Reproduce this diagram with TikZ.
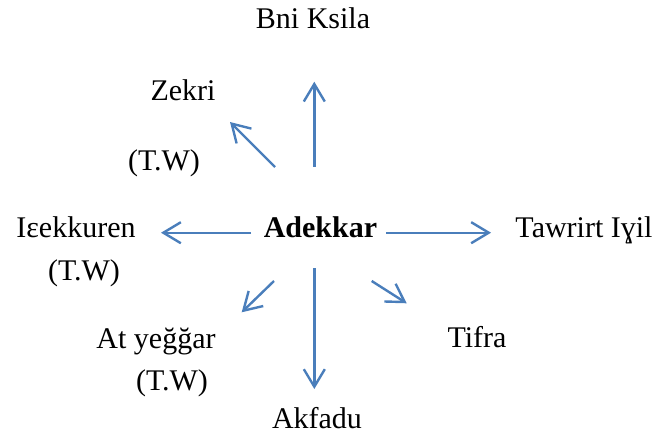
\documentclass[tikz,border=0pt]{standalone}
\usepackage{fontspec}
\setmainfont{Liberation Serif}
\usetikzlibrary{arrows.meta}
\definecolor{arrowblue}{HTML}{4A7EBB}
\begin{document}
\begin{tikzpicture}[x=1pt,y=-1pt,
  lbl/.style={anchor=base,inner sep=0pt,font=\fontsize{30}{36}\selectfont},
  conn/.style={draw=arrowblue,line width=2.4pt,-{Straight Barb[length=17.5pt,width=21pt,line width=2.4pt]}}]
\useasboundingbox (0,0) rectangle (657,439);
% labels
\node[lbl] (bni) at (313,28) {Bni Ksila};
\node[lbl] (zekri) at (183,100) {Zekri};
\node[lbl] (tw1) at (164,170) {(T.W)};
\node[lbl,font=\fontsize{30}{36}\selectfont\bfseries] (adekkar) at (320.5,237) {Adekkar};
\node[lbl] (iee) at (76,237) {Iɛekkuren};
\node[lbl] (tw2) at (84,280) {(T.W)};
\node[lbl] (tawrirt) at (584,237) {Tawrirt Iɣil};
\node[lbl] (tifra) at (477,347) {Tifra};
\node[lbl] (at) at (156,348) {At yeğğar};
\node[lbl] (tw3) at (172,390) {(T.W)};
\node[lbl] (akfadu) at (317,428) {Akfadu};
% arrow endpoints
\coordinate (upS) at (314.3,166.7);
\coordinate (upE) at (314.3,81.7);
\coordinate (zkS) at (275,167);
\coordinate (zkE) at (230,122);
\coordinate (lfS) at (251,232.7);
\coordinate (lfE) at (161,232.7);
\coordinate (rtS) at (386,232.7);
\coordinate (rtE) at (491,232.7);
\coordinate (dlS) at (274,281);
\coordinate (dlE) at (241.7,312.3);
\coordinate (drS) at (371.7,281);
\coordinate (drE) at (406.7,303.3);
\coordinate (dnS) at (314.3,268);
\coordinate (dnE) at (314.3,389);
% arrows
\draw[conn] (upS) -- (upE);
\draw[conn] (zkS) -- (zkE);
\draw[conn] (lfS) -- (lfE);
\draw[conn] (rtS) -- (rtE);
\draw[conn] (dlS) -- (dlE);
\draw[conn] (drS) -- (drE);
\draw[conn] (dnS) -- (dnE);
\end{tikzpicture}
\end{document}
